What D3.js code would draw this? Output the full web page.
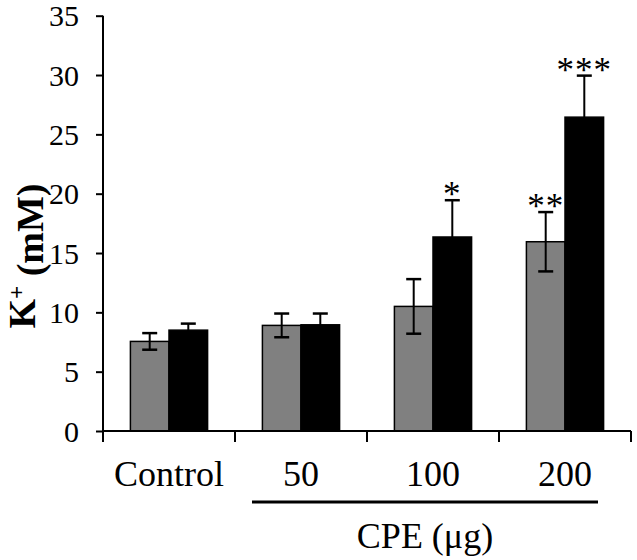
<!DOCTYPE html>
<html>
<head>
<meta charset="utf-8">
<script src="https://cdn.jsdelivr.net/npm/d3@7"></script>
<style>
  html, body { margin: 0; padding: 0; background: #fff; }
  svg { display: block; }
</style>
</head>
<body>
<script>
// ---- data ----
const categories = ["Control", "50", "100", "200"];
const seriesNames = ["s1", "s2"];
const series1 = [7.55, 8.9, 10.5, 15.95];    // gray bars
const series1Err = [0.7, 1.0, 2.3, 2.5];
const series2 = [8.5, 8.95, 16.35, 26.45];   // black bars
const series2Err = [0.55, 0.95, 3.1, 3.5];
const series1Sig = ["", "", "", "**"];
const series2Sig = ["", "", "*", "***"];
const yTicks = [0, 5, 10, 15, 20, 25, 30, 35];
const yTitle = "K";
const ySup = "+";
const yTitleRest = " (mM)";
const groupLabel = "CPE (μg)";
const groupedCats = ["50", "100", "200"];

const FONT = "'Liberation Serif', 'Times New Roman', serif";

// ---- layout ----
const W = 637, H = 560;
const svg = d3.select("body").append("svg").attr("width", W).attr("height", H);

const y = d3.scaleLinear().domain([0, 35]).range([431, 15.7]);
const x0 = d3.scaleBand().domain(categories).range([103, 631]).padding(0);
const x1 = d3.scaleBand().domain(seriesNames).range([0, x0.bandwidth()]).paddingInner(0).paddingOuter(0.71);

const fills = { s1: "#808080", s2: "#000000" };
const rows = categories.map((c, i) => ({
  cat: c,
  vals: [
    { s: "s1", v: series1[i], e: series1Err[i], sig: series1Sig[i] },
    { s: "s2", v: series2[i], e: series2Err[i], sig: series2Sig[i] }
  ]
}));

// bars
const g = svg.append("g");
const grp = g.selectAll("g.grp").data(rows).join("g")
  .attr("transform", d => `translate(${x0(d.cat)},0)`);

grp.selectAll("rect").data(d => d.vals).join("rect")
  .attr("x", d => x1(d.s))
  .attr("y", d => y(d.v))
  .attr("width", x1.bandwidth())
  .attr("height", d => y(0) - y(d.v))
  .attr("fill", d => fills[d.s])
  .attr("stroke", "#000")
  .attr("stroke-width", 1.5);

// error bars
const capW = 15;
const eb = grp.selectAll("g.eb").data(d => d.vals).join("g").attr("class", "eb");
eb.append("line")
  .attr("x1", d => x1(d.s) + x1.bandwidth() / 2)
  .attr("x2", d => x1(d.s) + x1.bandwidth() / 2)
  .attr("y1", d => y(d.v - d.e))
  .attr("y2", d => y(d.v + d.e))
  .attr("stroke", "#000").attr("stroke-width", 2);
eb.append("line")
  .attr("x1", d => x1(d.s) + x1.bandwidth() / 2 - capW / 2)
  .attr("x2", d => x1(d.s) + x1.bandwidth() / 2 + capW / 2)
  .attr("y1", d => y(d.v + d.e))
  .attr("y2", d => y(d.v + d.e))
  .attr("stroke", "#000").attr("stroke-width", 2.5);
eb.append("line")
  .attr("x1", d => x1(d.s) + x1.bandwidth() / 2 - capW / 2)
  .attr("x2", d => x1(d.s) + x1.bandwidth() / 2 + capW / 2)
  .attr("y1", d => y(d.v - d.e))
  .attr("y2", d => y(d.v - d.e))
  .attr("stroke", "#000").attr("stroke-width", 2.5);

// significance stars
grp.selectAll("text.sig").data(d => d.vals.filter(v => v.sig)).join("text")
  .attr("class", "sig")
  .attr("x", d => x1(d.s) + x1.bandwidth() / 2)
  .attr("y", d => y(d.v + d.e) + 6)
  .attr("text-anchor", "middle")
  .style("font-family", FONT)
  .style("font-size", "35px")
  .style("letter-spacing", "1px")
  .text(d => d.sig);

// y axis
const yAxis = d3.axisLeft(y).tickValues(yTicks).tickSize(7).tickPadding(17).tickSizeOuter(0);
const ya = svg.append("g").attr("transform", "translate(103,0)").call(yAxis)
  .attr("font-family", FONT);
ya.select(".domain").attr("stroke-width", 2).attr("d", `M0,${y(35)}V${y(0) + 11}`);
ya.selectAll(".tick line").attr("stroke-width", 2);
ya.selectAll(".tick text")
  .style("font-family", FONT).style("font-size", "30px")
  .attr("fill", "#000").attr("dy", "0.34em");

// x axis (baseline + boundary ticks)
const xa = svg.append("g");
xa.append("line").attr("x1", 103).attr("x2", 631).attr("y1", y(0)).attr("y2", y(0))
  .attr("stroke", "#000").attr("stroke-width", 2);
const bounds = categories.map(c => x0(c)).concat([x0(categories[categories.length - 1]) + x0.bandwidth()]);
xa.selectAll("line.bt").data(bounds.slice(1)).join("line").attr("class", "bt")
  .attr("x1", d => d).attr("x2", d => d).attr("y1", y(0)).attr("y2", y(0) + 11)
  .attr("stroke", "#000").attr("stroke-width", 2);
xa.selectAll("text.cat").data(categories).join("text").attr("class", "cat")
  .attr("x", d => x0(d) + x0.bandwidth() / 2)
  .attr("y", 486)
  .attr("text-anchor", "middle")
  .style("font-family", FONT)
  .style("font-size", "36px")
  .text(d => d);

// grouping underline and label
const gx1 = x0(groupedCats[0]) + 17, gx2 = x0(groupedCats[groupedCats.length - 1]) + x0.bandwidth() - 33;
svg.append("line").attr("x1", gx1).attr("x2", gx2).attr("y1", 502).attr("y2", 502)
  .attr("stroke", "#000").attr("stroke-width", 3);
svg.append("text").attr("x", (gx1 + gx2) / 2).attr("y", 548)
  .attr("text-anchor", "middle")
  .style("font-family", FONT).style("font-size", "36px").text(groupLabel);

// y title
const yt = svg.append("text")
  .attr("transform", "translate(35,256) rotate(-90)")
  .attr("text-anchor", "middle")
  .style("font-family", FONT)
  .style("font-size", "38px").style("font-weight", "bold");
yt.append("tspan").text(yTitle);
yt.append("tspan").attr("dy", "-0.5em").style("font-size", "23px").text(ySup);
yt.append("tspan").attr("dy", "0.5em").text(yTitleRest);
</script>
</body>
</html>
